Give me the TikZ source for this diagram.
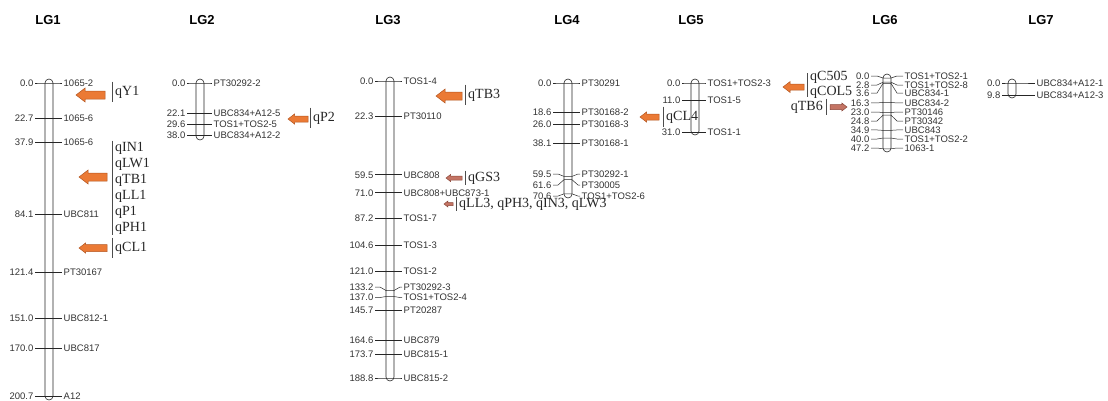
\documentclass[tikz,border=0pt]{standalone}
\usepackage{fontspec}
\setmainfont{Liberation Serif}
\newfontfamily\mkfont{Liberation Sans}
\usetikzlibrary{positioning}

\definecolor{qorange}{HTML}{EB7A35}
\definecolor{qorangedk}{HTML}{B35520}
\definecolor{qbrown}{HTML}{C47464}
\definecolor{qbrowndk}{HTML}{8A4638}

% one linkage group: id, x, y at 0 cM, px per cM, bar top, bar bottom, left reach, right reach, markers
\newcommand{\drawlg}[9]{%
  \draw[chrom] (#2-4,#5) rectangle (#2+4,#6);
  \foreach \cM/\dY/\mN [count=\i] in {#9} {
    \pgfmathsetmacro\yc{#3+#4*\cM}
    \pgfmathsetmacro\yl{\yc+\dY}
    \node[cmnum] (#1n\i) at (#2-#7,\yl) {\cM};
    \node[mkname] (#1m\i) at (#2+#8,\yl) {\mN};
    \draw[mkline] (#1n\i.east) -- (#2-10,\yl) -- (#2-4,\yc) -- (#2+4,\yc)
      -- (#2+10,\yl) -- (#1m\i.west);
  }
}
% block arrow: style, tip x, y, tail x, half head, half shaft
\newcommand{\qtlarrow}[6]{%
  \pgfmathsetmacro\hdx{#2+1.3*#5*sign(#4-#2)}
  \draw[#1] (#2,#3) -- (\hdx,#3-#5) -- (\hdx,#3-#6) -- (#4,#3-#6)
    -- (#4,#3+#6) -- (\hdx,#3+#6) -- (\hdx,#3+#5) -- cycle;
}

\begin{document}
\begin{tikzpicture}[
    x=1pt, y=-1pt,
    chrom/.style={draw=black!85, line width=0.6pt, rounded corners=4pt},
    mkline/.style={draw=black!85, line width=0.5pt},
    cmnum/.style={font=\mkfont\fontsize{9.5}{10.5}\selectfont, text=black!80, anchor=east,
      inner sep=1.5pt, text height=6.8pt, text depth=0pt},
    mkname/.style={cmnum, anchor=west},
    lgtitle/.style={font=\mkfont\bfseries\fontsize{13}{15}\selectfont},
    qtltext/.style={font=\fontsize{14}{16}\selectfont, text=black!85, anchor=west,
      align=left, inner xsep=0pt, inner ysep=4pt},
    qtlbar/.style={draw=black!70, line width=0.8pt},
    orangearrow/.style={fill=qorange, draw=qorangedk, line width=0.5pt},
    brownarrow/.style={fill=qbrown, draw=qbrowndk, line width=0.5pt}
  ]
  \useasboundingbox (0,0) rectangle (1108,400);

  \foreach \t/\x in {1/48, 2/202, 3/388, 4/567, 5/691, 6/885, 7/1041}
    \node[lgtitle] (title\t) at (\x,20) {LG\t};

  % linkage groups
  \drawlg{lg1}{49}{83}{1.56}{79}{400}{14}{13}{0.0/0/1065-2, 22.7/0/1065-6,
    37.9/0/1065-6, 84.1/0/UBC811, 121.4/0/PT30167, 151.0/0/UBC812-1,
    170.0/0/UBC817, 200.7/0/A12}
  \drawlg{lg2}{200}{83}{1.38}{79}{140}{13}{12}{0.0/0/PT30292-2,
    22.1/0/UBC834+A12-5, 29.6/0/TOS1+TOS2-5, 38.0/0/UBC834+A12-2}
  \drawlg{lg3}{390}{81}{1.573}{77}{381}{15}{12}{0.0/0/TOS1-4, 22.3/0/PT30110,
    59.5/0/UBC808, 71.0/0/UBC808+UBC873-1, 87.2/0/TOS1-7, 104.6/0/TOS1-3,
    121.0/0/TOS1-2, 133.2/-3.5/PT30292-3, 137.0/1/TOS1+TOS2-4, 145.7/0/PT20287,
    164.6/0/UBC879, 173.7/0/UBC815-1, 188.8/0/UBC815-2}
  \drawlg{lg4}{568}{83}{1.57}{79}{198}{15}{12}{0.0/0/PT30291, 18.6/0/PT30168-2,
    26.0/0/PT30168-3, 38.1/0/PT30168-1, 59.5/-2.4/PT30292-1, 61.6/5.3/PT30005,
    70.6/2.2/TOS1+TOS2-6}
  \drawlg{lg5}{695}{83}{1.58}{79}{135}{13}{11}{0.0/0/TOS1+TOS2-3, 11.0/0/TOS1-5,
    31.0/0/TOS1-1}
  \drawlg{lg6}{887}{78}{1.5}{74}{152}{16}{16}{0.0/-2/TOS1+TOS2-1,
    2.8/2.8/TOS1+TOS2-8, 3.6/9.6/UBC834-1, 16.3/0.5/UBC834-2, 23.0/-0.5/PT30146,
    24.8/5.8/PT30342, 34.9/-0.4/UBC843, 40.0/1/TOS1+TOS2-2, 47.2/-0.8/1063-1}
  \drawlg{lg7}{1012}{83}{1.22}{79}{98}{10}{23}{0.0/0/UBC834+A12-1,
    9.8/0/UBC834+A12-3}

  % QTL
  \node[qtltext] (qY1) at (115,92) {qY1};
  \draw[qtlbar] ([xshift=-3pt]qY1.north west) -- ([xshift=-3pt]qY1.south west);
  \qtlarrow{orangearrow}{76}{95}{105}{7}{4}

  \node[qtltext, inner ysep=1pt] (qgrp1) at (115,188) {qIN1\\qLW1\\qTB1\\qLL1\\qP1\\qPH1};
  \draw[qtlbar] ([xshift=-3pt]qgrp1.north west) -- ([xshift=-3pt]qgrp1.south west);
  \qtlarrow{orangearrow}{79}{177}{107}{7}{4}

  \node[qtltext] (qCL1) at (115,248) {qCL1};
  \draw[qtlbar] ([xshift=-3pt]qCL1.north west) -- ([xshift=-3pt]qCL1.south west);
  \qtlarrow{orangearrow}{79}{248}{107}{5}{3.5}

  \node[qtltext] (qP2) at (313,118) {qP2};
  \draw[qtlbar] ([xshift=-3pt]qP2.north west) -- ([xshift=-3pt]qP2.south west);
  \qtlarrow{orangearrow}{288}{119}{308}{5}{3}

  \node[qtltext] (qTB3) at (468,95) {qTB3};
  \draw[qtlbar] ([xshift=-3pt]qTB3.north west) -- ([xshift=-3pt]qTB3.south west);
  \qtlarrow{orangearrow}{436}{96}{462}{7}{4}

  \node[qtltext, inner ysep=1pt] (qGS3) at (468,178) {qGS3};
  \draw[qtlbar] ([xshift=-3pt]qGS3.north west) -- ([xshift=-3pt]qGS3.south west);
  \qtlarrow{brownarrow}{446}{178}{462}{3.5}{2}

  \node[qtltext, inner ysep=1pt] (qLL3) at (459,204) {qLL3, qPH3, qIN3, qLW3};
  \draw[qtlbar] ([xshift=-3pt]qLL3.north west) -- ([xshift=-3pt]qLL3.south west);
  \qtlarrow{brownarrow}{444}{204}{453}{3}{1.5}

  \node[qtltext] (qCL4) at (666,117) {qCL4};
  \draw[qtlbar] ([xshift=-3pt]qCL4.north west) -- ([xshift=-3pt]qCL4.south west);
  \qtlarrow{orangearrow}{640}{117}{659}{5}{3}

  \node[qtltext, inner ysep=0pt, font=\fontsize{14}{15}\selectfont] (qC505) at (810,85) {qC505\\qCOL5};
  \draw[qtlbar, shorten >=2pt, shorten <=2pt] ([xshift=-3pt]qC505.north west) -- ([xshift=-3pt]qC505.south west);
  \qtlarrow{orangearrow}{783}{87}{804}{5.5}{3}

  \node[qtltext, anchor=east, inner ysep=2pt] (qTB6) at (823,107) {qTB6};
  \draw[qtlbar] ([xshift=3pt]qTB6.north east) -- ([xshift=3pt]qTB6.south east);
  \qtlarrow{brownarrow}{847}{107}{830}{4}{2.5}
\end{tikzpicture}
\end{document}
